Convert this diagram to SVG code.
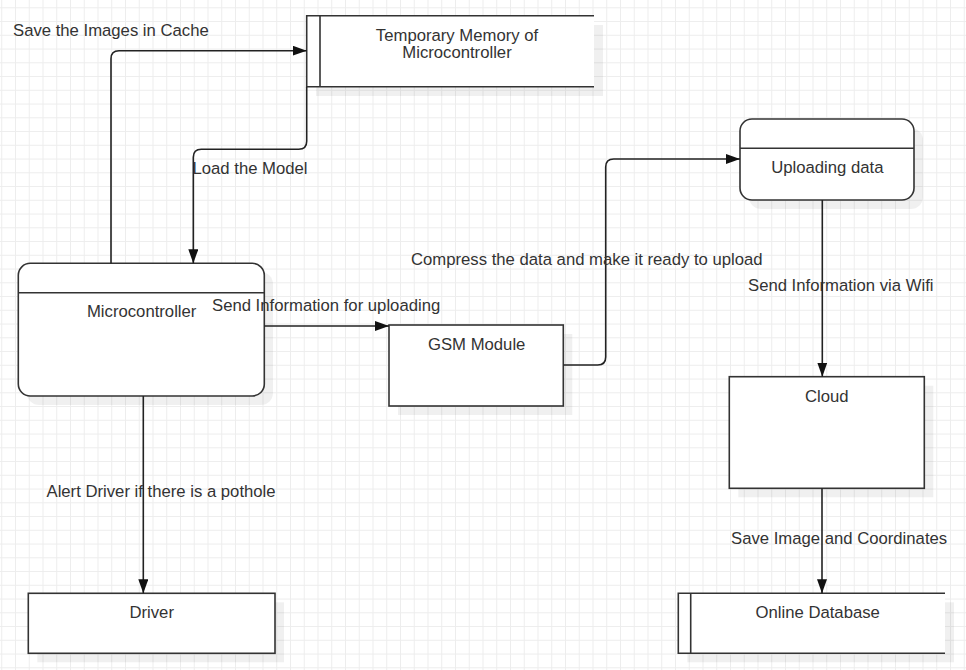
<svg xmlns="http://www.w3.org/2000/svg" width="966" height="670" viewBox="0 0 966 670">
<defs>
<pattern id="grid" x="1.25" y="7.3" width="13.75" height="13.75" patternUnits="userSpaceOnUse">
<path d="M0.5,0 V13.75 M0,0.5 H13.75" fill="none" stroke="#ededed" stroke-width="1"/>
</pattern>
<marker id="arr" viewBox="0 0 14 10" refX="14" refY="5" markerWidth="14" markerHeight="10" markerUnits="userSpaceOnUse" orient="auto">
<path d="M0,0 L14,5 L0,10 z" fill="#111"/>
</marker>
<style>
.box{fill:#fff;stroke:#333;stroke-width:1.6}
.ln{fill:none;stroke:#333;stroke-width:1.6}
.sh{fill:#000;opacity:0.06}
.t{font-family:"Liberation Sans",Arial,sans-serif;font-size:16.7px;fill:#333}
.c{text-anchor:middle}
.conn{fill:none;stroke:#222;stroke-width:1.6}
</style>
</defs>
<rect width="966" height="670" fill="#fff"/>
<rect width="966" height="670" fill="url(#grid)"/>

<g id="temporary-memory">
<rect class="sh" x="316" y="25" width="287" height="71"/>
<rect x="306.7" y="15.7" width="287.3" height="71" fill="#fff"/>
<path class="ln" d="M594,15.7 H306.7 V86.7 H594 M320,15.7 V86.7"/>
<text class="t c" x="457" y="40.5">Temporary Memory of</text>
<text class="t c" x="457" y="57.5">Microcontroller</text>
</g>

<g id="microcontroller">
<rect class="sh" x="27" y="272" width="246" height="133" rx="12"/>
<rect class="box" x="18.3" y="263.3" width="246" height="132.7" rx="12"/>
<path class="ln" d="M18.3,292.7 H264.3"/>
<text class="t c" x="141.7" y="316.7">Microcontroller</text>
</g>

<g id="gsm-module">
<rect class="sh" x="398" y="334" width="174.3" height="81"/>
<rect class="box" x="389" y="325" width="174.3" height="81"/>
<text class="t c" x="476.7" y="350">GSM Module</text>
</g>

<g id="uploading-data">
<rect class="sh" x="749" y="128" width="174" height="81" rx="12"/>
<rect class="box" x="740" y="119" width="174" height="81" rx="12"/>
<path class="ln" d="M740,148.3 H914"/>
<text class="t c" x="827.3" y="172.7">Uploading data</text>
</g>

<g id="cloud">
<rect class="sh" x="738.3" y="385.7" width="195" height="111.6"/>
<rect class="box" x="729.3" y="376.7" width="195" height="111.6"/>
<text class="t c" x="826.7" y="401.7">Cloud</text>
</g>

<g id="driver">
<rect class="sh" x="37.3" y="602.3" width="246.7" height="60"/>
<rect class="box" x="28.3" y="593.3" width="246.7" height="60"/>
<text class="t c" x="151.7" y="617.7">Driver</text>
</g>

<g id="online-database">
<rect class="sh" x="687.3" y="602.3" width="266.7" height="60"/>
<rect x="678.3" y="593.3" width="266.7" height="60" fill="#fff"/>
<path class="ln" d="M945,593.3 H678.3 V653.3 H945 M690.7,593.3 V653.3"/>
<text class="t c" x="817.7" y="618.3">Online Database</text>
</g>

<g id="connectors">
<path class="conn" d="M111,263.3 V58.7 Q111,50.7 119,50.7 H306.7" marker-end="url(#arr)"/>
<path class="conn" d="M306.7,86.7 V141.3 Q306.7,149.3 298.7,149.3 H201.3 Q193.3,149.3 193.3,157.3 V263.3" marker-end="url(#arr)"/>
<path class="conn" d="M264.3,326 H389" marker-end="url(#arr)"/>
<path class="conn" d="M563.3,365 H597.7 Q605.7,365 605.7,357 V167 Q605.7,159 613.7,159 H740" marker-end="url(#arr)"/>
<path class="conn" d="M822.3,200 V376.7" marker-end="url(#arr)"/>
<path class="conn" d="M822,488.3 V593.3" marker-end="url(#arr)"/>
<path class="conn" d="M143.3,396 V593.3" marker-end="url(#arr)"/>
<text class="t" x="13" y="35.5">Save the Images in Cache</text>
<text class="t" x="192.5" y="174">Load the Model</text>
<text class="t" x="212" y="311">Send Information for uploading</text>
<text class="t" x="411" y="265">Compress the data and make it ready to upload</text>
<text class="t" x="748" y="291">Send Information via Wifi</text>
<text class="t" x="46.5" y="497">Alert Driver if there is a pothole</text>
<text class="t" x="731" y="544">Save Image and Coordinates</text>
</g>
</svg>
